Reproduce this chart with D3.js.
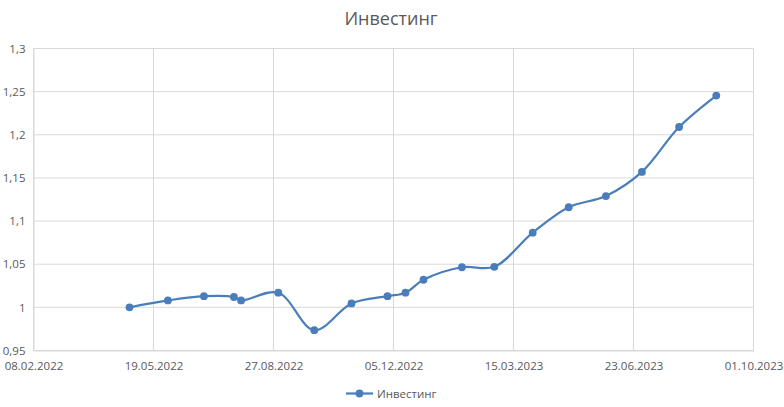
<!DOCTYPE html>
<html>
<head>
<meta charset="utf-8">
<script src="https://cdn.jsdelivr.net/npm/d3@7"></script>
<style>
  body { margin: 0; background: #fff; }
  svg { display: block; font-family: "Open Sans", sans-serif; }
</style>
</head>
<body>
<script>
// data
const dates = ["29.04.2022", "31.05.2022", "30.06.2022", "25.07.2022", "31.07.2022", "31.08.2022",
  "30.09.2022", "31.10.2022", "30.11.2022", "15.12.2022", "30.12.2022", "31.01.2023",
  "27.02.2023", "31.03.2023", "30.04.2023", "31.05.2023", "30.06.2023", "31.07.2023", "31.08.2023"];
const values = [1.000, 1.008, 1.013, 1.012, 1.008, 1.017,
  0.9735, 1.0045, 1.013, 1.017, 1.032, 1.0465,
  1.047, 1.0865, 1.116, 1.129, 1.157, 1.209, 1.2455];
const xTicks = ["08.02.2022", "19.05.2022", "27.08.2022", "05.12.2022", "15.03.2023", "23.06.2023", "01.10.2023"];
const yTicks = [0.95, 1, 1.05, 1.1, 1.15, 1.2, 1.25, 1.3];
const seriesName = "Инвестинг";

const w = 784;
const h = 407;
const plotLeft = 33.5, plotRight = 753.5, plotTop = 48.5, plotBottom = 350.5;
const color = "#4a7ebb";
const grid = "#d9d9d9";
const textColor = "#595959";

const parse = d3.timeParse("%d.%m.%Y");
const points = dates.map((d, i) => ({ date: parse(d), value: values[i] }));

const xScale = d3.scaleTime()
  .domain([parse(xTicks[0]), parse(xTicks[xTicks.length - 1])])
  .range([plotLeft, plotRight]);
const yScale = d3.scaleLinear()
  .domain([yTicks[0], yTicks[yTicks.length - 1]])
  .range([plotBottom, plotTop]);

const svg = d3.select("body").append("svg").attr("width", w).attr("height", h);

// gridlines
svg.append("g")
  .selectAll("line")
  .data(yTicks)
  .enter()
  .append("line")
  .attr("x1", plotLeft).attr("x2", plotRight)
  .attr("y1", (d) => yScale(d)).attr("y2", (d) => yScale(d))
  .attr("stroke", grid);
svg.append("g")
  .selectAll("line")
  .data(xTicks)
  .enter()
  .append("line")
  .attr("x1", (d) => xScale(parse(d))).attr("x2", (d) => xScale(parse(d)))
  .attr("y1", plotTop).attr("y2", plotBottom)
  .attr("stroke", grid);

// axes
const fmt = (d) => String(d).replace(".", ",");
const yAxis = d3.axisLeft(yScale).tickValues(yTicks).tickFormat(fmt).tickSize(0).tickPadding(8);
const xAxis = d3.axisBottom(xScale).tickValues(xTicks.map(parse)).tickFormat(d3.timeFormat("%d.%m.%Y")).tickSize(0).tickPadding(11);

const gy = svg.append("g").attr("transform", "translate(" + plotLeft + ",0)").call(yAxis);
const gx = svg.append("g").attr("transform", "translate(0," + plotBottom + ")").call(xAxis);
[gx, gy].forEach((g) => {
  g.select(".domain").attr("stroke", grid);
  g.selectAll("text").attr("fill", textColor).style("font-size", "11.5px").style("font-family", "'Open Sans', sans-serif");
});

// series
const line = d3.line()
  .x((d) => xScale(d.date))
  .y((d) => yScale(d.value))
  .curve(d3.curveCatmullRom.alpha(0.5));

svg.append("path")
  .datum(points)
  .attr("d", line)
  .attr("fill", "none")
  .attr("stroke", color)
  .attr("stroke-width", 2.2);

svg.append("g")
  .selectAll("circle")
  .data(points)
  .enter()
  .append("circle")
  .attr("cx", (d) => xScale(d.date))
  .attr("cy", (d) => yScale(d.value))
  .attr("r", 3.9)
  .attr("fill", color);

// title
svg.append("text")
  .attr("x", 391)
  .attr("y", 25)
  .attr("text-anchor", "middle")
  .attr("fill", textColor)
  .style("font-size", "18px")
  .text(seriesName);

// legend
const lg = svg.append("g").attr("transform", "translate(346,393.5)");
lg.append("line").attr("x1", 0).attr("x2", 27).attr("stroke", color).attr("stroke-width", 2.2);
lg.append("circle").attr("cx", 13.5).attr("r", 3.9).attr("fill", color);
lg.append("text")
  .attr("x", 31)
  .attr("y", 4)
  .attr("fill", textColor)
  .style("font-size", "11.5px")
  .text(seriesName);
</script>
</body>
</html>
